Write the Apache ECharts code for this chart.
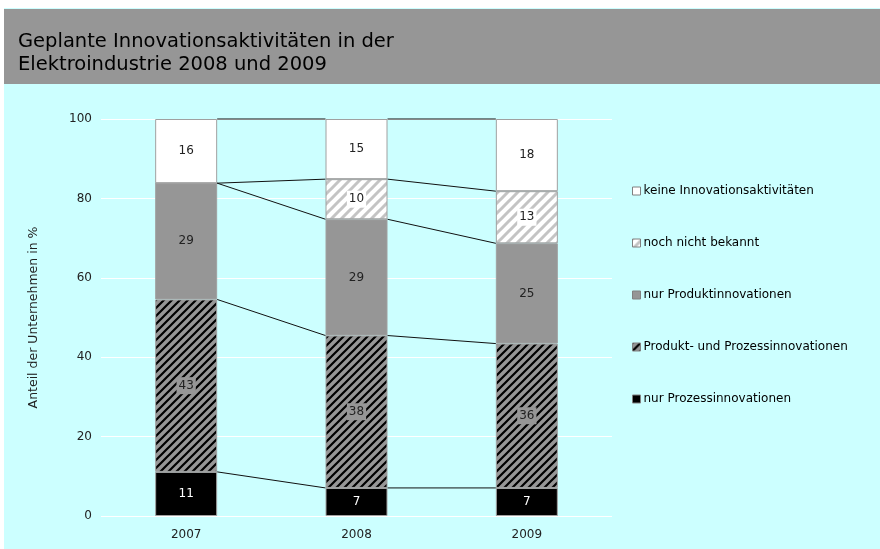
<!DOCTYPE html>
<html>
<head>
<meta charset="utf-8">
<script src="https://cdn.jsdelivr.net/npm/echarts@6/dist/echarts.min.js"></script>
<style>
  html, body { margin: 0; padding: 0; background: #fff; }
  #chart { width: 880px; height: 549px; }
</style>
</head>
<body>
<div id="chart"></div>
<script>
// Daten (Anzahl in %, je Jahr Summe ~99 -> 100%-gestapelt)
const years = ['2007', '2008', '2009']
const nurProzess = [11, 7, 7]
const produktProzess = [43, 38, 36]
const nurProdukt = [29, 29, 25]
const nochNicht = [0, 10, 13]
const keine = [16, 15, 18]

const seriesNames = [
  'nur Prozessinnovationen',
  'Produkt- und Prozessinnovationen',
  'nur Produktinnovationen',
  'noch nicht bekannt',
  'keine Innovationsaktivitäten'
]
const rawSeries = [nurProzess, produktProzess, nurProdukt, nochNicht, keine]

const BAR_W = 62

// Schraffur als Canvas-Muster ("/"-Streifen)
const makeHatch = (size, bg, fg, lw) => {
  const c = document.createElement('canvas')
  c.width = size
  c.height = size
  const ctx = c.getContext('2d')
  ctx.fillStyle = bg
  ctx.fillRect(0, 0, size, size)
  ctx.strokeStyle = fg
  ctx.lineWidth = lw
  ctx.beginPath()
  ctx.moveTo(-size, size * 2); ctx.lineTo(size * 2, -size)
  ctx.moveTo(-size, size); ctx.lineTo(size, -size)
  ctx.moveTo(0, size * 2); ctx.lineTo(size * 2, 0)
  ctx.stroke()
  return c
}

const darkHatch = { image: makeHatch(8, '#969696', '#000', 2.2), repeat: 'repeat' }
const lightHatch = { image: makeHatch(10, '#ffffff', '#c4c4c4', 3), repeat: 'repeat' }

// 100%-Normierung
const totals = years.map((_, i) => rawSeries.reduce((s, arr) => s + arr[i], 0))
const pct = rawSeries.map(arr => arr.map((v, i) => v / totals[i] * 100))

// kumulierte Obergrenzen je Segment (für Verbindungslinien)
const cum = []
pct.forEach((arr, k) => {
  cum.push(arr.map((v, i) => (k > 0 ? cum[k - 1][i] : 0) + v))
})

const styles = [
  { color: '#000000', label: { color: '#ffffff' } },
  { color: darkHatch, label: { color: '#222', backgroundColor: '#969696', padding: [3, 2, 2, 2] } },
  { color: '#969696', label: { color: '#222' } },
  { color: lightHatch, label: { color: '#222', backgroundColor: '#ffffff', padding: [3, 2, 2, 2] } },
  { color: '#ffffff', label: { color: '#222' } }
]

const barSeries = pct.map((arr, k) => ({
  name: seriesNames[k],
  type: 'bar',
  stack: 'total',
  barWidth: BAR_W,
  itemStyle: {
    color: styles[k].color,
    borderColor: '#a0a0a0',
    borderWidth: 1
  },
  label: Object.assign({
    show: true,
    position: 'inside',
    fontSize: 12,
    formatter: p => String(rawSeries[k][p.dataIndex])
  }, styles[k].label),
  data: arr.map((v, i) => ({
    value: v,
    label: { show: rawSeries[k][i] > 0 }
  }))
}))

const connectors = {
  type: 'custom',
  z: 3,
  silent: true,
  renderItem: (params, api) => {
    const i = api.value(0)
    const children = cum.map(level => {
      const a = api.coord([i, level[i]])
      const b = api.coord([i + 1, level[i + 1]])
      return {
        type: 'line',
        shape: { x1: a[0] + BAR_W / 2, y1: a[1], x2: b[0] - BAR_W / 2, y2: b[1] },
        style: { stroke: '#111', lineWidth: 1 }
      }
    })
    return { type: 'group', children }
  },
  data: years.slice(0, -1).map((_, i) => [i])
}

const chart = echarts.init(document.getElementById('chart'))
chart.setOption({
  animation: false,
  backgroundColor: '#ffffff',
  textStyle: { fontFamily: 'DejaVu Sans' },
  graphic: [
    { type: 'rect', z: -100, silent: true, shape: { x: 4, y: 8, width: 876, height: 541 }, style: { fill: '#ccffff' } },
    { type: 'rect', z: -99, silent: true, shape: { x: 4, y: 9, width: 876, height: 75 }, style: { fill: '#969696' } }
  ],
  title: {
    text: 'Geplante Innovationsaktivitäten in der\nElektroindustrie 2008 und 2009',
    left: 13,
    top: 25,
    textStyle: { fontSize: 19.5, fontWeight: 'normal', color: '#000', lineHeight: 23 }
  },
  legend: {
    orient: 'vertical',
    left: 632,
    top: 184,
    padding: 0,
    itemGap: 38,
    itemWidth: 8,
    itemHeight: 8,
    icon: 'rect',
    data: seriesNames.slice().reverse(),
    itemStyle: { borderColor: '#808080', borderWidth: 1 },
    textStyle: { fontSize: 12, color: '#000', lineHeight: 14, padding: [0, 0, 0, -2] }
  },
  grid: { left: 101, right: 268, top: 119, bottom: 33 },
  xAxis: {
    type: 'category',
    data: years,
    axisLine: { show: false },
    axisTick: { show: false },
    axisLabel: { color: '#222', fontSize: 12, margin: 13 }
  },
  yAxis: {
    type: 'value',
    min: 0,
    max: 100,
    interval: 20,
    name: 'Anteil der Unternehmen in %',
    nameLocation: 'middle',
    nameGap: 61,
    nameTextStyle: { color: '#222', fontSize: 12.5 },
    axisLine: { show: false },
    axisTick: { show: false },
    axisLabel: { color: '#222', fontSize: 12, margin: 9 },
    splitLine: { lineStyle: { color: '#ffffff', width: 1 } }
  },
  series: barSeries.concat([connectors])
})
</script>
</body>
</html>
